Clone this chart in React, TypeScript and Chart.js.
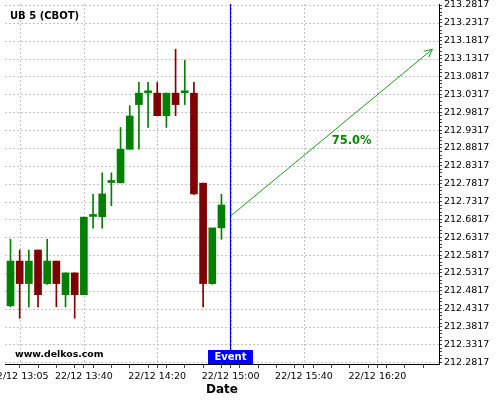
import { useEffect, useRef } from "react";
import { Chart, registerables } from "chart.js";

Chart.register(...registerables);

const TITLE = "UB 5 (CBOT)";
const WATERMARK = "www.delkos.com";
const X_TITLE = "Date";
const DATE_PREFIX = "22/12";

const CANDLE_TIMES = [
  "13:00", "13:05", "13:10", "13:15", "13:20", "13:25", "13:30", "13:35",
  "13:40", "13:45", "13:50", "13:55", "14:00", "14:05", "14:10", "14:15",
  "14:20", "14:25", "14:30", "14:35", "14:40", "14:45", "14:50", "14:55",
];
const OPEN = [
  212.44, 212.565, 212.502, 212.596, 212.502, 212.565, 212.471, 212.532,
  212.471, 212.69, 212.689, 212.785, 212.784, 212.878, 213.003, 213.036,
  213.035, 212.972, 213.035, 213.036, 213.035, 212.783, 212.502, 212.658,
];
const HIGH = [
  212.626, 212.596, 212.596, 212.596, 212.626, 212.565, 212.532, 212.532,
  212.688, 212.752, 212.812, 212.812, 212.939, 213.0, 213.065, 213.065,
  213.065, 213.035, 213.158, 213.127, 213.065, 212.783, 212.502, 212.752,
];
const LOW = [
  212.437, 212.405, 212.437, 212.437, 212.5, 212.437, 212.437, 212.405,
  212.471, 212.657, 212.657, 212.72, 212.784, 212.878, 212.878, 212.939,
  212.972, 212.939, 212.972, 213.003, 212.751, 212.437, 212.5, 212.626,
];
const CLOSE = [
  212.565, 212.502, 212.565, 212.471, 212.565, 212.502, 212.532, 212.471,
  212.688, 212.69, 212.753, 212.785, 212.878, 212.971, 213.035, 213.036,
  212.972, 213.035, 213.003, 213.036, 212.753, 212.502, 212.658, 212.722,
];

const X_TICK_TIMES = ["13:05", "13:40", "14:20", "15:00", "15:40", "16:20"];
const Y_TICKS = [
  212.2817, 212.3317, 212.3817, 212.4317, 212.4817, 212.5317, 212.5817,
  212.6317, 212.6817, 212.7317, 212.7817, 212.8317, 212.8817, 212.9317,
  212.9817, 213.0317, 213.0817, 213.1317, 213.1817, 213.2317, 213.2817,
];

const EVENT_TIME = "15:00";
const EVENT_LABEL = "Event";
const ARROW_FROM_TIME = "15:00";
const ARROW_FROM_VALUE = 212.691;
const ARROW_TO_TIME = "16:50";
const ARROW_TO_VALUE = 213.158;
const PROBABILITY_LABEL = "75.0%";

const X_MIN = 777.0;
const X_MAX = 1013.6;
const Y_MIN = 212.277;
const Y_MAX = 213.2845;

const GREEN = "#008000";
const RED = "#800000";
const GRID = "#c4c4c4";
const FONT = "'DejaVu Sans', sans-serif";

const toMin = (t: string) => {
  const [h, m] = t.split(":").map(Number);
  return h * 60 + m;
};
const fmtTime = (m: number) => {
  const h = Math.floor(m / 60);
  const mm = Math.round(m - h * 60);
  return `${DATE_PREFIX} ${String(h).padStart(2, "0")}:${String(mm).padStart(2, "0")}`;
};

const majorX = X_TICK_TIMES.map(toMin);
const isMajorX = (v: number) => majorX.some((m) => Math.abs(m - v) < 0.01);
const isMajorY = (v: number) => Y_TICKS.some((t) => Math.abs(t - v) < 1e-6);

const gridPlugin = {
  id: "customGrid",
  beforeDatasetsDraw(chart: any) {
    const { ctx, chartArea } = chart;
    const xs = chart.scales.x;
    const ys = chart.scales.y;
    ctx.save();
    ctx.strokeStyle = GRID;
    ctx.lineWidth = 1;
    ctx.setLineDash([2, 2]);
    ctx.beginPath();
    majorX.forEach((m) => {
      const x = Math.round(xs.getPixelForValue(m)) + 0.5;
      ctx.moveTo(x, chartArea.top);
      ctx.lineTo(x, chartArea.bottom);
    });
    Y_TICKS.forEach((v) => {
      const y = Math.round(ys.getPixelForValue(v)) + 0.5;
      ctx.moveTo(chartArea.left, y);
      ctx.lineTo(chartArea.right, y);
    });
    ctx.stroke();
    ctx.restore();
  },
};

const overlayPlugin = {
  id: "overlay",
  afterDatasetsDraw(chart: any) {
    const { ctx, chartArea } = chart;
    const xs = chart.scales.x;
    const ys = chart.scales.y;
    ctx.save();
    ctx.setLineDash([]);

    // Arrow
    const x1 = xs.getPixelForValue(toMin(ARROW_FROM_TIME));
    const y1 = ys.getPixelForValue(ARROW_FROM_VALUE);
    const x2 = xs.getPixelForValue(toMin(ARROW_TO_TIME));
    const y2 = ys.getPixelForValue(ARROW_TO_VALUE);
    ctx.strokeStyle = "#1f9a1f";
    ctx.lineWidth = 1;
    ctx.beginPath();
    ctx.moveTo(x1, y1);
    ctx.lineTo(x2, y2);
    const ang = Math.atan2(y2 - y1, x2 - x1);
    const hl = 9;
    ctx.moveTo(x2 - hl * Math.cos(ang - 0.45), y2 - hl * Math.sin(ang - 0.45));
    ctx.lineTo(x2, y2);
    ctx.lineTo(x2 - hl * Math.cos(ang + 0.45), y2 - hl * Math.sin(ang + 0.45));
    ctx.stroke();

    // Probability label
    const t = 0.6;
    ctx.fillStyle = "#0a8a0a";
    ctx.font = `bold 11.5px ${FONT}`;
    ctx.textAlign = "center";
    ctx.textBaseline = "middle";
    ctx.fillText(PROBABILITY_LABEL, x1 + (x2 - x1) * t, y1 + (y2 - y1) * t + 25);

    // Event line
    const ex = Math.round(xs.getPixelForValue(toMin(EVENT_TIME))) - 0.5;
    ctx.strokeStyle = "#0000ff";
    ctx.lineWidth = 1.2;
    ctx.beginPath();
    ctx.moveTo(ex, chartArea.top);
    ctx.lineTo(ex, chartArea.bottom);
    ctx.stroke();

    // Event box
    ctx.fillStyle = "#0000ff";
    ctx.fillRect(ex - 22.5, chartArea.bottom - 14, 45, 14);
    ctx.fillStyle = "#ffffff";
    ctx.font = `bold 10px ${FONT}`;
    ctx.textAlign = "center";
    ctx.textBaseline = "alphabetic";
    ctx.fillText(EVENT_LABEL, ex, chartArea.bottom - 4);

    // Title
    ctx.fillStyle = "#000";
    ctx.font = `bold 10px ${FONT}`;
    ctx.textAlign = "left";
    ctx.textBaseline = "alphabetic";
    ctx.fillText(TITLE, chartArea.left + 5, 19);

    // Watermark
    ctx.font = `bold 9.4px ${FONT}`;
    ctx.fillText(WATERMARK, chartArea.left + 10, chartArea.bottom - 7.3);

    // X axis title
    ctx.font = `bold 12px ${FONT}`;
    ctx.textAlign = "center";
    ctx.fillText(X_TITLE, (chartArea.left + chartArea.right) / 2, 393.3);

    ctx.restore();
  },
};

export default function App() {
  const ref = useRef<HTMLCanvasElement>(null);

  useEffect(() => {
    if (!ref.current) return;
    const xs = CANDLE_TIMES.map(toMin);
    const colors = CLOSE.map((c, i) => (c >= OPEN[i] ? GREEN : RED));

    const chart = new Chart(ref.current, {
      type: "bar",
      data: {
        datasets: [
          {
            label: "wick",
            data: xs.map((x, i) => ({ x, y: [LOW[i], HIGH[i]] })) as any,
            backgroundColor: colors,
            barThickness: 1,
            grouped: false,
            order: 2,
          } as any,
          {
            label: "body",
            data: xs.map((x, i) => ({ x, y: [OPEN[i], CLOSE[i]] })) as any,
            backgroundColor: colors,
            barThickness: 7,
            minBarLength: 2,
            grouped: false,
            order: 1,
          } as any,
        ],
      },
      options: {
        animation: false,
        responsive: true,
        maintainAspectRatio: false,
        layout: { padding: { left: 5, top: 4, right: 0, bottom: 0 } },
        plugins: { legend: { display: false }, tooltip: { enabled: false } },
        scales: {
          x: {
            type: "linear",
            position: "bottom",
            offset: false,
            min: X_MIN,
            max: X_MAX,
            afterBuildTicks: (s: any) => {
              const ticks: any[] = [];
              for (let m = 785; m <= 1010; m += 10) ticks.push({ value: m });
              majorX.forEach((m) => {
                if (!ticks.some((t) => Math.abs(t.value - m) < 0.01)) ticks.push({ value: m });
              });
              ticks.sort((a, b) => a.value - b.value);
              s.ticks = ticks;
            },
            afterFit: (s: any) => {
              s.height = 36;
              s.paddingLeft = 0;
              s.paddingRight = 0;
            },
            ticks: {
              autoSkip: false,
              maxRotation: 0,
              minRotation: 0,
              padding: 3,
              color: "#000",
              font: { family: FONT, size: 9.5 },
              callback: (v: any) => (isMajorX(Number(v)) ? fmtTime(Number(v)) : ""),
            },
            grid: {
              offset: false,
              drawOnChartArea: false,
              tickColor: "#444",
              tickLength: 4,
            },
            border: { display: true, color: "#000", width: 1 },
          },
          y: {
            type: "linear",
            position: "right",
            min: Y_MIN,
            max: Y_MAX,
            afterBuildTicks: (s: any) => {
              const ticks: any[] = [];
              for (let i = 0; i < Y_TICKS.length; i++) {
                ticks.push({ value: Y_TICKS[i] });
                if (i < Y_TICKS.length - 1) {
                  for (let k = 1; k < 5; k++) ticks.push({ value: Y_TICKS[i] + k * 0.01 });
                }
              }
              s.ticks = ticks;
            },
            afterFit: (s: any) => {
              s.width = 61;
              s.paddingTop = 0;
              s.paddingBottom = 0;
            },
            ticks: {
              autoSkip: false,
              padding: 2,
              color: "#000",
              font: { family: FONT, size: 9.5 },
              callback: (v: any) => (isMajorY(Number(v)) ? Number(v).toFixed(4) : ""),
            },
            grid: {
              drawOnChartArea: false,
              tickColor: "#444",
              tickLength: 3,
            },
            border: { display: true, color: "#000", width: 1 },
          },
        },
      } as any,
      plugins: [gridPlugin, overlayPlugin],
    });
    return () => chart.destroy();
  }, []);

  return (
    <div style={{ position: "fixed", left: 0, top: 0, width: 500, height: 400, background: "#fff" }}>
      <canvas ref={ref} />
    </div>
  );
}
